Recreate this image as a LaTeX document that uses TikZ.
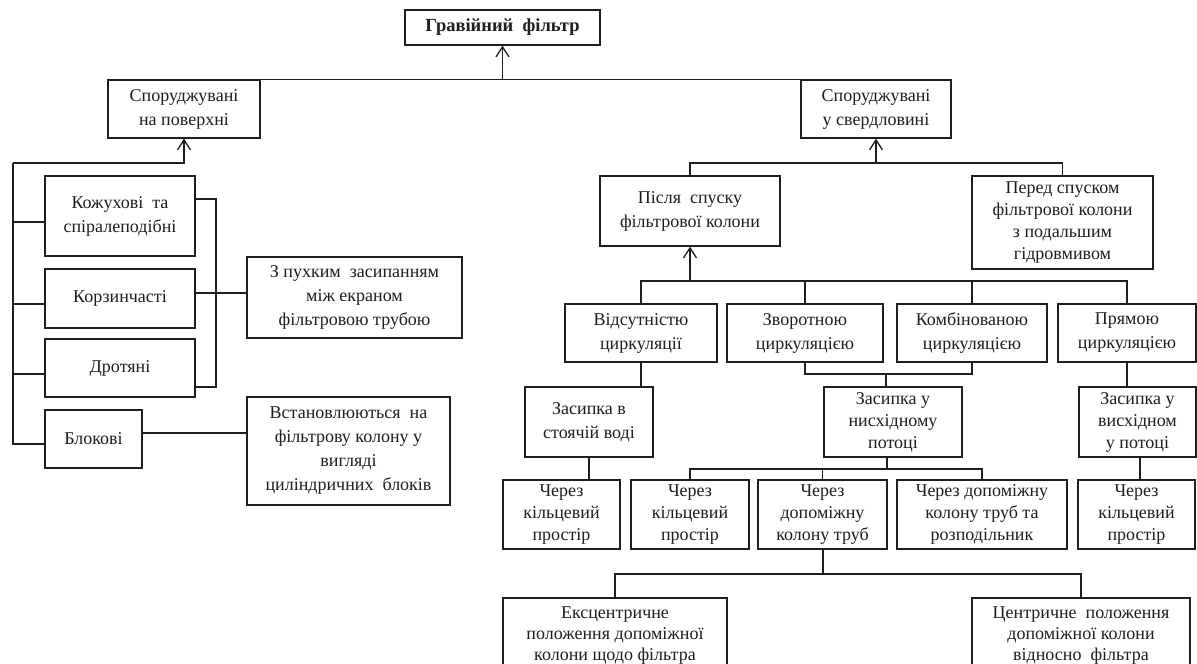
\documentclass[tikz,border=0pt]{standalone}
\usepackage{fontspec}
\setmainfont{Liberation Serif}
\usetikzlibrary{arrows.meta,calc}
\definecolor{ink}{HTML}{1E1E1E}
\tikzset{
  bx/.style={draw=ink, line width=1.4pt, align=center, inner sep=0pt,
    font=\fontsize{18}{24}\selectfont, text=ink},
  tight/.style={font=\fontsize{18}{22}\selectfont},
  ln/.style={draw=ink, line width=1.4pt},
  arr/.style={ln, -{Straight Barb[length=10pt,width=13pt,line width=1.3pt]}},
}
\begin{document}
\begin{tikzpicture}[x=1pt,y=-1pt]
\useasboundingbox (0,0) rectangle (1197,664);
\fill[white] (0,0) rectangle (1197,664);
\clip (0,0) rectangle (1197,664);
% --- nodes
\node[bx, minimum width=195pt, minimum height=35pt, font=\fontsize{18.5}{24}\selectfont\bfseries] (g) at (502.5,27.5) {Гравійний\ \ фільтр};
\node[bx, minimum width=152pt, minimum height=58pt] (sp) at (184,109) {Споруджувані\\на поверхні};
\node[bx, minimum width=150pt, minimum height=58pt] (sv) at (876,109) {Споруджувані\\у свердловині};
% left column
\node[bx, minimum width=150pt, minimum height=80pt] (k1) at (120,216) {Кожухові\ \ та\\спіралеподібні};
\node[bx, minimum width=150pt, minimum height=59pt] (k2) at (120,298.5) {Корзинчасті};
\node[bx, minimum width=150pt, minimum height=58pt] (k3) at (120,368) {Дротяні};
\node[bx, minimum width=97pt, minimum height=58pt] (k4) at (93.5,439) {Блокові};
\node[bx, minimum width=215pt, minimum height=81pt] (zp) at (354.5,297.5) {З пухким\ \ засипанням\\між екраном\\фільтровою трубою};
\node[bx, minimum width=203pt, minimum height=108pt] (vs) at (348.5,451) {Встановлюються\ \ на\\фільтрову колону у\\вигляді\\циліндричних\ \ блоків};
% right part
\node[bx, minimum width=180pt, minimum height=70pt] (ps) at (690,211) {Після\ \ спуску\\фільтрової колони};
\node[bx, minimum width=181pt, minimum height=93pt, tight] (pr) at (1062.5,222.5) {Перед спуском\\фільтрової колони\\з подальшим\\гідровмивом};
\node[bx, minimum width=152pt, minimum height=58pt] (r1) at (641,333) {Відсутністю\\циркуляції};
\node[bx, minimum width=156pt, minimum height=58pt] (r2) at (805,333) {Зворотною\\циркуляцією};
\node[bx, minimum width=150pt, minimum height=58pt] (r3) at (972,333) {Комбінованою\\циркуляцією};
\node[bx, minimum width=138pt, minimum height=58pt] (r4) at (1127,333) {Прямою\\циркуляцією};
\node[bx, minimum width=128pt, minimum height=70pt] (z1) at (589,422) {Засипка в\\стоячій воді};
\node[bx, minimum width=138pt, minimum height=70pt, tight] (z2) at (893,422) {Засипка у\\нисхідному\\потоці};
\node[bx, minimum width=117pt, minimum height=70pt, tight] (z3) at (1137.5,422) {Засипка у\\висхідном\\у потоці};
\node[bx, minimum width=117pt, minimum height=69pt, tight] (c1) at (561.5,514.5) {Через\\кільцевий\\простір};
\node[bx, minimum width=118pt, minimum height=69pt, tight] (c2) at (690,514.5) {Через\\кільцевий\\простір};
\node[bx, minimum width=129pt, minimum height=69pt, tight] (c3) at (822.5,514.5) {Через\\допоміжну\\колону труб};
\node[bx, minimum width=170pt, minimum height=69pt, tight] (c4) at (982,514.5) {Через допоміжну\\колону труб та\\розподільник};
\node[bx, minimum width=117pt, minimum height=69pt, tight] (c5) at (1136.5,514.5) {Через\\кільцевий\\простір};
\node[bx, minimum width=224pt, minimum height=76pt, font=\fontsize{18}{21}\selectfont] (e1) at (615,636) {Ексцентричне\\положення допоміжної\\колони щодо фільтра};
\node[bx, minimum width=218pt, minimum height=76pt, font=\fontsize{18}{21}\selectfont] (e2) at (1081,636) {Центричне\ \ положення\\допоміжної колони\\відносно\ \ фільтра};
% --- connectors: top
\draw[ln] (sp.north east) -- (sv.north west);
\draw[arr] (g.south |- sp.north) -- (g.south);
% left rail
\coordinate (railtop) at (13,163);
\draw[arr] (railtop) -| (sp.south);
\draw[ln] (railtop) |- ($(k4.west)+(0,5)$);
\draw[ln] ($(k1.west)+(0,6)$) -- ++(-32,0);
\draw[ln] ($(k2.west)+(0,5.5)$) -- ++(-32,0);
\draw[ln] ($(k3.west)+(0,6)$) -- ++(-32,0);
% bracket
\coordinate (brk) at (216,293);
\draw[ln] ($(k1.east)+(0,-17)$) -| (brk) |- ($(k3.east)+(0,19)$);
\draw[ln] (k2.east |- brk) -- (zp.west |- brk);
\draw[ln] ($(k4.east)+(0,-6)$) coordinate (bl) -- (vs.west |- bl);
% right part
\coordinate (h1) at (876,163);
\draw[ln] (ps.north) |- (h1) -| (pr.north);
\draw[arr] (h1) -- (sv.south);
\coordinate (h2) at (690,281);
\draw[arr] (h2) -- (ps.south);
\draw[ln] (r1.north) |- (h2) -| (r4.north);
\draw[ln] (r2.north) -- (r2.north |- h2);
\draw[ln] (r3.north) -- (r3.north |- h2);
\coordinate (h3) at (886,374);
\draw[ln] (r2.south) |- (h3) -| (r3.south);
\draw[ln] (h3) -- (h3 |- z2.north);
\draw[ln] (r1.south) -- (r1.south |- z1.north);
\draw[ln] (r4.south) -- (r4.south |- z3.north);
\draw[ln] (z1.south) -- (z1.south |- c1.north);
\coordinate (d5) at (1140,457);
\draw[ln] (d5) -- (d5 |- c5.north);
\coordinate (h4) at (887,469);
\draw[ln] (h4 |- z2.south) -- (h4);
\draw[ln] (c2.north) |- (h4) -| (c4.north);
\draw[ln] (c3.north) -- (c3.north |- h4);
\coordinate (h5) at (823,574);
\draw[ln] (h5 |- c3.south) -- (h5);
\draw[ln] (e1.north) |- (h5) -| (e2.north);
\end{tikzpicture}
\end{document}
